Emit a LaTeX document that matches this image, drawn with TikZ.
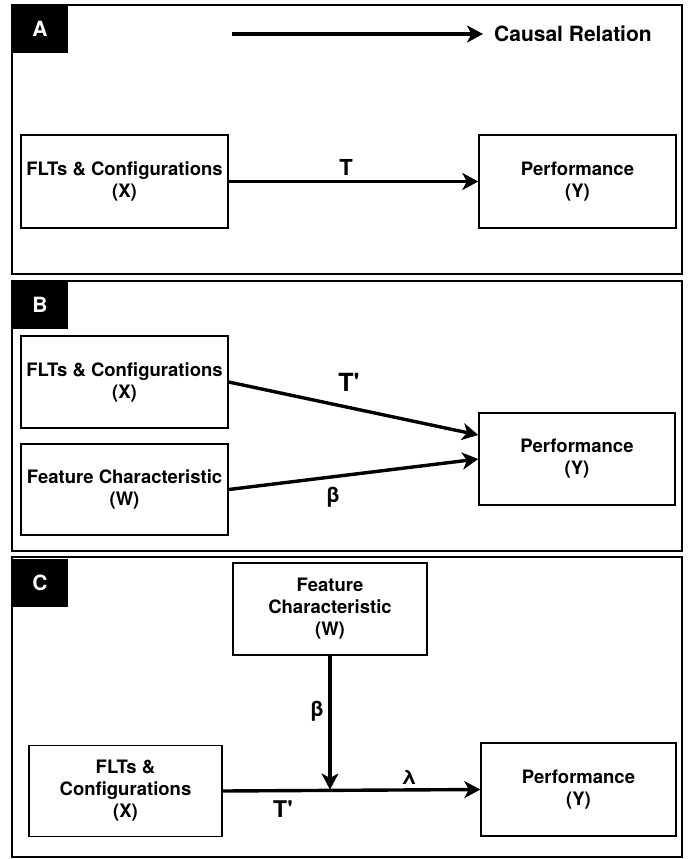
\documentclass[tikz,border=0pt]{standalone}
\usepackage{fontspec}
\setmainfont{TeX Gyre Heros}[Ligatures=TeXOff]
\usetikzlibrary{arrows.meta}
\begin{document}
\begin{tikzpicture}[x=1pt,y=-1pt,
  box/.style={draw, line width=1.4pt, inner sep=0pt, align=center,
    font=\fontsize{18.5}{22}\selectfont\bfseries},
  frame/.style={draw, line width=1.4pt},
  tag/.style={fill=black, text=white, inner sep=0pt, minimum width=56pt, minimum height=48pt,
    font=\fontsize{21}{24}\selectfont\bfseries},
  conn/.style={line width=3.4pt, -{Stealth[length=16pt,width=17pt,inset=4.5pt]}},
  lab/.style={inner sep=0pt, font=\fontsize{#1}{#1}\selectfont\bfseries}]
\useasboundingbox (0,0) rectangle (694,859);
% frames
\draw[frame] (12,5) rectangle (682,274);
\draw[frame] (12,281) rectangle (682,551);
\draw[frame] (12,557) rectangle (682,857);
% tags
\node[tag] (tagA) at (40,29) {A};
\node[tag] (tagB) at (40,305) {B};
\node[tag] (tagC) at (40,583) {C};
% legend
\coordinate (lg1) at (232,34);
\coordinate (lg2) at (483,34);
\draw[conn] (lg1) -- (lg2);
\node[anchor=west, inner sep=0pt, font=\fontsize{21}{24}\selectfont\bfseries] (leg) at (494,34) {Causal Relation};
% panel A
\node[box, minimum width=207pt, minimum height=93pt] (fa) at (124.5,181.5) {FLTs \& Configurations\\(X)};
\node[box, minimum width=197pt, minimum height=93pt] (pa) at (577.5,181.5) {Performance\\(Y)};
\draw[conn] (fa.east) -- (pa.west);
\node[lab=22] (tA) at (346,167) {T};
% panel B
\node[box, minimum width=207pt, minimum height=92pt] (fb) at (124.5,382) {FLTs \& Configurations\\(X)};
\node[box, minimum width=207pt, minimum height=91pt] (wb) at (124.5,489.5) {Feature Characteristic\\(W)};
\node[box, minimum width=196pt, minimum height=92pt] (pb) at (577,459) {Performance\\(Y)};
\draw[conn] (fb.east) -- ([yshift=24pt]pb.west);
\draw[conn] (wb.east) -- (pb.west);
\node[lab=25] (tB) at (349,382) {T'};
\node[lab=21] (bB) at (333,497) {β};
% panel C
\node[box, minimum width=194pt, minimum height=92pt] (wc) at (330,609) {Feature\\Characteristic\\(W)};
\node[box, minimum width=193pt, minimum height=91pt] (fc) at (125.5,791) {FLTs \&\\Configurations\\(X)};
\node[box, minimum width=195pt, minimum height=93pt] (pc) at (578.5,789.5) {Performance\\(Y)};
\draw[conn] (fc.east) -- (pc.west);
\draw[conn] (wc.south) -- (wc.south |- pc.west);
\node[lab=21] (bC) at (317,711) {β};
\node[lab=20] (lC) at (409,777) {λ};
\node[lab=23] (tC) at (283,809) {T'};
\end{tikzpicture}
\end{document}
